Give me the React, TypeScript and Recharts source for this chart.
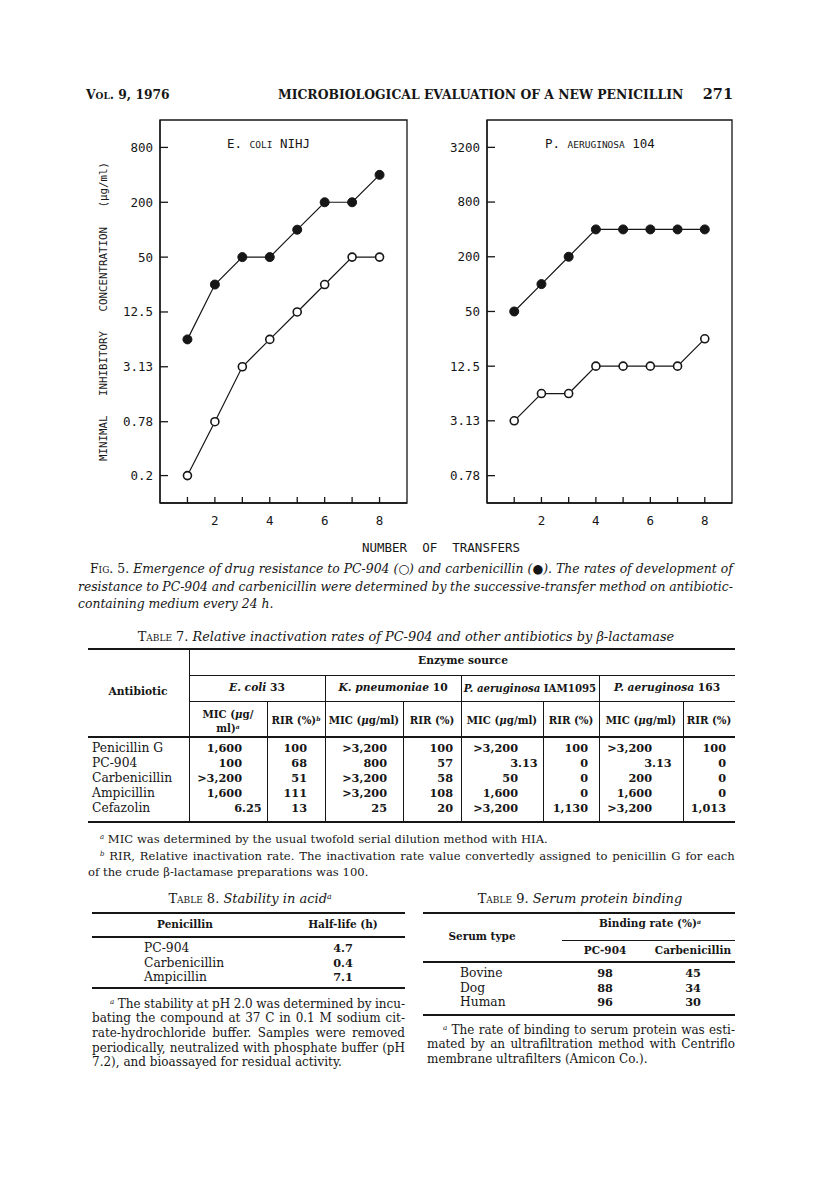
import React from "react";
import { LineChart, Line, XAxis, YAxis, ReferenceArea } from "recharts";

// transfer number on the x axis
const transfers = [1, 2, 3, 4, 5, 6, 7, 8];
const transferTicks = [1, 2, 3, 4, 5, 6, 7, 8];

// MIC (ug/ml)
const ecoliPc904 = [0.2, 0.78, 3.13, 6.25, 12.5, 25, 50, 50];
const ecoliCarbenicillin = [6.25, 25, 50, 50, 100, 200, 200, 400];
const aeruginosaPc904 = [3.13, 6.25, 6.25, 12.5, 12.5, 12.5, 12.5, 25];
const aeruginosaCarbenicillin = [50, 100, 200, 400, 400, 400, 400, 400];

const ecoliTicks = [0.2, 0.78, 3.13, 12.5, 50, 200, 800];
const aeruginosaTicks = [0.78, 3.13, 12.5, 50, 200, 800, 3200];

// table 7
const t7Antibiotics = ["Penicillin G", "PC-904", "Carbenicillin", "Ampicillin", "Cefazolin"];
const t7EcoliMic = ["1,600", "100", ">3,200", "1,600", "6.25"];
const t7EcoliRir = ["100", "68", "51", "111", "13"];
const t7KpnMic = [">3,200", "800", ">3,200", ">3,200", "25"];
const t7KpnRir = ["100", "57", "58", "108", "20"];
const t7Pa1095Mic = [">3,200", "3.13", "50", "1,600", ">3,200"];
const t7Pa1095Rir = ["100", "0", "0", "0", "1,130"];
const t7Pa163Mic = [">3,200", "3.13", "200", "1,600", ">3,200"];
const t7Pa163Rir = ["100", "0", "0", "0", "1,013"];

// table 8
const t8Penicillins = ["PC-904", "Carbenicillin", "Ampicillin"];
const t8HalfLife = ["4.7", "0.4", "7.1"];

// table 9
const t9Serum = ["Bovine", "Dog", "Human"];
const t9Pc904 = ["98", "88", "96"];
const t9Carbenicillin = ["45", "34", "30"];

const INK = "#161616";
const MONO = "'DejaVu Sans Mono', monospace";
const SERIF = "'DejaVu Serif', serif";

function Panel({ pc904, carb, ticks, domain, title, titleX, showYLabel, width, left }: any) {
  const data = transfers.map((t, i) => ({ t, pc904: pc904[i], carb: carb[i] }));
  return (
    <LineChart width={width} height={440} data={data} margin={{ top: 20, right: 13, left, bottom: 7 }}>
      <XAxis
        dataKey="t"
        type="number"
        domain={[0, 9]}
        ticks={transferTicks}
        interval={0}
        tickFormatter={(v: number) => (v % 2 === 0 ? String(v) : "")}
        tickSize={-6}
        tickMargin={19}
        height={30}
        axisLine={{ stroke: INK, strokeWidth: 1.3 }}
        tickLine={{ stroke: INK, strokeWidth: 1.3 }}
        tick={{ fill: INK, fontSize: 12.5, fontFamily: MONO }}
      />
      <YAxis
        type="number"
        scale="log"
        domain={domain}
        allowDataOverflow
        ticks={ticks}
        interval={0}
        width={50}
        tickSize={-8}
        tickMargin={15}
        axisLine={{ stroke: INK, strokeWidth: 1.3 }}
        tickLine={{ stroke: INK, strokeWidth: 1.3 }}
        tick={{ fill: INK, fontSize: 12.5, fontFamily: MONO }}
        label={
          showYLabel
            ? {
                content: (p: any) => {
                  const vb = p.viewBox;
                  const x = vb.x - 7;
                  const y = vb.y + vb.height / 2;
                  return (
                    <text x={x} y={y} transform={`rotate(-90 ${x} ${y})`} textAnchor="middle" dominantBaseline="central"
                      fontFamily={MONO} fontSize={10.8} fill={INK}>
                      MINIMAL{"\u00a0\u00a0\u00a0"}INHIBITORY{"\u00a0\u00a0\u00a0"}CONCENTRATION{"\u00a0\u00a0\u00a0"}(μg/ml)
                    </text>
                  );
                },
              }
            : undefined
        }
      />
      <ReferenceArea
        x1={0}
        x2={9}
        y1={domain[0]}
        y2={domain[1]}
        fill="none"
        stroke={INK}
        strokeWidth={1.3}
        ifOverflow="visible"
        label={{
          content: (p: any) => {
            const vb = p.viewBox;
            return (
              <text x={vb.x + titleX} y={vb.y + 28} fontFamily={MONO} fontSize={12.5} fill={INK}>
                <tspan>{title[0]}</tspan>
                <tspan fontSize={9.5}>{title[1]}</tspan>
                <tspan>{title[2]}</tspan>
              </text>
            );
          },
        }}
      />
      <Line type="linear" dataKey="carb" stroke={INK} strokeWidth={1.2}
        dot={{ r: 4.5, fill: INK, stroke: INK, strokeWidth: 1 }} isAnimationActive={false} />
      <Line type="linear" dataKey="pc904" stroke={INK} strokeWidth={1.2}
        dot={{ r: 4, fill: "#fff", stroke: INK, strokeWidth: 1.6 }} isAnimationActive={false} />
    </LineChart>
  );
}

// text centred vertically on y
function T({ x, y, a = "start", size = 11, bold = false, italic = false, children, style }: any) {
  const h = 16;
  const w = 600;
  const left = a === "start" ? x : a === "middle" ? x - w / 2 : x - w;
  return (
    <div style={{
      position: "absolute", left, top: y - h / 2, width: w, height: h, lineHeight: h + "px", fontSize: size,
      textAlign: a === "start" ? "left" : a === "middle" ? "center" : "right",
      fontWeight: bold ? "bold" : "normal", fontStyle: italic ? "italic" : "normal", whiteSpace: "nowrap", ...style,
    }}>{children}</div>
  );
}

function HL({ x1, x2, y, w = 1 }: any) {
  return <div style={{ position: "absolute", left: x1, top: y - w / 2, width: x2 - x1, height: w, background: INK }} />;
}
function VL({ x, y1, y2, w = 1 }: any) {
  return <div style={{ position: "absolute", left: x - w / 2, top: y1, width: w, height: y2 - y1, background: INK }} />;
}

// justified block, one div per printed line
function Para({ left, top, width, lh, size, indent, lines, italic = false }: any) {
  return (
    <>
      {lines.map((words: any[], i: number) => {
        const last = i === lines.length - 1;
        const ind = i === 0 ? indent : 0;
        return (
          <div key={i} style={{
            position: "absolute", left: left + ind, top: top + i * lh - lh / 2, width: width - ind, height: lh,
            lineHeight: lh + "px", fontSize: size, display: "flex", justifyContent: last ? "flex-start" : "space-between",
            gap: last ? "0.32em" : 0, whiteSpace: "nowrap", fontStyle: italic ? "italic" : "normal",
          }}>
            {words.map((wd, j) => <span key={j}>{wd}</span>)}
          </div>
        );
      })}
    </>
  );
}

const ws = (s: string) => s.split(" ");
const sc = (s: string) => <span style={{ fontVariant: "small-caps", fontStyle: "normal" }}>{s}</span>;
const up = (s: string) => <span style={{ fontStyle: "normal" }}>{s}</span>;
const sup = (s: string) => <sup style={{ fontSize: "0.6em", fontStyle: "italic", verticalAlign: "0.55em", lineHeight: 0 }}>{s}</sup>;

// decimal aligned number: integer part ends at x
function Num({ x, y, v, size = 11.3 }: any) {
  const k = v.indexOf(".");
  const ip = k >= 0 ? v.slice(0, k) : v;
  const fp = k >= 0 ? v.slice(k) : "";
  return (
    <>
      <T x={x} y={y} a="end" size={size} bold>{ip}</T>
      {fp && <T x={x} y={y} size={size} bold>{fp}</T>}
    </>
  );
}

export default function App() {
  const t7L = 88, t7R = 735;
  const rowY = [748, 763, 778, 793, 808];
  const micCols = [
    { xi: 242, vals: t7EcoliMic },
    { xi: 387, vals: t7KpnMic },
    { xi: 518, vals: t7Pa1095Mic },
    { xi: 652, vals: t7Pa163Mic },
  ];
  const rirCols = [
    { xr: 307, vals: t7EcoliRir },
    { xr: 453, vals: t7KpnRir },
    { xr: 588, vals: t7Pa1095Rir },
    { xr: 726, vals: t7Pa163Rir },
  ];
  const hs = 10.2; // table 7 column heads
  return (
    <div style={{ position: "absolute", left: 0, top: 0, width: 816, height: 1194, background: "#fff", color: INK, fontFamily: SERIF }}>
      {/* running head */}
      <T x={86} y={95} size={12.3} bold style={{ fontVariant: "small-caps" }}>Vol. 9, 1976</T>
      <T x={278} y={95} size={12.4} bold>MICROBIOLOGICAL EVALUATION OF A NEW PENICILLIN</T>
      <T x={733} y={94} a="end" size={14.5} bold>271</T>

      {/* figure */}
      <div style={{ position: "absolute", left: 80, top: 100 }}>
        <Panel pc904={ecoliPc904} carb={ecoliCarbenicillin} ticks={ecoliTicks} domain={[0.1, 1600]}
          title={["E. ", "COLI", " NIHJ"]} titleX={67} showYLabel width={340} left={30} />
      </div>
      <div style={{ position: "absolute", left: 427, top: 100 }}>
        <Panel pc904={aeruginosaPc904} carb={aeruginosaCarbenicillin} ticks={aeruginosaTicks} domain={[0.39, 6400]}
          title={["P. ", "AERUGINOSA", " 104"]} titleX={58} width={318} left={10} />
      </div>
      <T x={441} y={548} a="middle" size={12.5} style={{ fontFamily: MONO }}>NUMBER{"\u00a0\u00a0"}OF{"\u00a0\u00a0"}TRANSFERS</T>

      {/* caption */}
      <Para left={78} top={569} width={655} lh={17.5} size={12.4} indent={12} italic lines={[
        [sc("Fig."), up("5."), ...ws("Emergence of drug resistance to PC-904 (○) and carbenicillin (●). The rates of development of")],
        ws("resistance to PC-904 and carbenicillin were determined by the successive-transfer method on antibiotic-"),
        ws("containing medium every 24 h."),
      ]} />

      {/* table 7 */}
      <T x={406} y={637} a="middle" size={12.9} italic>
        {sc("Table")} {up("7.")} Relative inactivation rates of PC-904 and other antibiotics by β-lactamase
      </T>
      <HL x1={t7L} x2={t7R} y={649} w={2} />
      <HL x1={189} x2={t7R} y={675} />
      <HL x1={189} x2={t7R} y={701} />
      <HL x1={t7L} x2={t7R} y={737} w={1.6} />
      <HL x1={t7L} x2={t7R} y={822} w={1.6} />
      <VL x={189} y1={649} y2={822} />
      {[325, 461, 599].map((x) => <VL key={x} x={x} y1={675} y2={822} />)}
      {[267, 403, 543, 683].map((x) => <VL key={x} x={x} y1={701} y2={822} />)}
      <T x={138} y={692} a="middle" size={hs + 0.5} bold>Antibiotic</T>
      <T x={463} y={661} a="middle" size={hs + 0.5} bold>Enzyme source</T>
      <T x={257} y={688} a="middle" size={hs + 0.5} bold><i>E. coli</i> 33</T>
      <T x={393} y={688} a="middle" size={hs + 0.5} bold><i>K. pneumoniae</i> 10</T>
      <T x={530} y={688} a="middle" size={hs} bold><i>P. aeruginosa</i> IAM1095</T>
      <T x={667} y={688} a="middle" size={hs + 0.5} bold><i>P. aeruginosa</i> 163</T>
      <T x={228} y={714} a="middle" size={hs} bold>MIC (<i>μ</i>g/</T>
      <T x={228} y={728} a="middle" size={hs} bold>ml){sup("a")}</T>
      <T x={296} y={720} a="middle" size={hs} bold>RIR (%){sup("b")}</T>
      <T x={364} y={720} a="middle" size={hs} bold>MIC (<i>μ</i>g/ml)</T>
      <T x={432} y={720} a="middle" size={hs} bold>RIR (%)</T>
      <T x={502} y={720} a="middle" size={hs} bold>MIC (<i>μ</i>g/ml)</T>
      <T x={571} y={720} a="middle" size={hs} bold>RIR (%)</T>
      <T x={641} y={720} a="middle" size={hs} bold>MIC (<i>μ</i>g/ml)</T>
      <T x={709} y={720} a="middle" size={hs} bold>RIR (%)</T>
      {t7Antibiotics.map((n, i) => <T key={n} x={92} y={rowY[i]} size={12.3}>{n}</T>)}
      {micCols.map((c, ci) => c.vals.map((v, i) => <Num key={ci + "-" + i} x={c.xi} y={rowY[i]} v={v} />))}
      {rirCols.map((c, ci) => c.vals.map((v, i) => <T key={ci + "r" + i} x={c.xr} y={rowY[i]} a="end" size={11.3} bold>{v}</T>))}

      <Para left={88} top={839} width={647} lh={16.5} size={11.6} indent={12} lines={[
        [sup("a"), ...ws("MIC was determined by the usual twofold serial dilution method with HIA.")],
      ]} />
      <Para left={88} top={856} width={647} lh={16.5} size={11.6} indent={12} lines={[
        [sup("b"), ...ws("RIR, Relative inactivation rate. The inactivation rate value convertedly assigned to penicillin G for each")],
        ws("of the crude β-lactamase preparations was 100."),
      ]} />

      {/* table 8 */}
      <T x={250} y={899} a="middle" size={13} italic>{sc("Table")} {up("8.")} Stability in acid{sup("a")}</T>
      <HL x1={92} x2={405} y={913} w={1.6} />
      <HL x1={92} x2={405} y={937} w={1.6} />
      <HL x1={92} x2={405} y={988} w={1.6} />
      <T x={185} y={924} a="middle" size={10.5} bold>Penicillin</T>
      <T x={343} y={924} a="middle" size={10.5} bold>Half-life (h)</T>
      {t8Penicillins.map((n, i) => <T key={n} x={144} y={948 + i * 14.5} size={12.3}>{n}</T>)}
      {t8HalfLife.map((v, i) => <T key={i} x={343} y={948 + i * 14.5} a="middle" size={11.3} bold>{v}</T>)}
      <Para left={92} top={1004} width={313} lh={14.6} size={12} indent={18} lines={[
        [sup("a"), ...ws("The stability at pH 2.0 was determined by incu-")],
        ws("bating the compound at 37 C in 0.1 M sodium cit-"),
        ws("rate-hydrochloride buffer. Samples were removed"),
        ws("periodically, neutralized with phosphate buffer (pH"),
        ws("7.2), and bioassayed for residual activity."),
      ]} />

      {/* table 9 */}
      <T x={580} y={899} a="middle" size={13} italic>{sc("Table")} {up("9.")} Serum protein binding</T>
      <HL x1={423} x2={735} y={913} w={1.6} />
      <HL x1={562} x2={735} y={940} />
      <HL x1={423} x2={735} y={962} w={1.6} />
      <HL x1={423} x2={735} y={1015} w={1.6} />
      <T x={650} y={923} a="middle" size={10.5} bold>Binding rate (%){sup("a")}</T>
      <T x={482} y={936} a="middle" size={10.5} bold>Serum type</T>
      <T x={605} y={950} a="middle" size={10.5} bold>PC-904</T>
      <T x={693} y={950} a="middle" size={10.5} bold>Carbenicillin</T>
      {t9Serum.map((n, i) => <T key={n} x={460} y={973 + i * 14.5} size={12.3}>{n}</T>)}
      {t9Pc904.map((v, i) => <T key={i} x={605} y={973 + i * 14.5} a="middle" size={11.3} bold>{v}</T>)}
      {t9Carbenicillin.map((v, i) => <T key={i} x={693} y={973 + i * 14.5} a="middle" size={11.3} bold>{v}</T>)}
      <Para left={427} top={1030} width={308} lh={14.6} size={12} indent={16} lines={[
        [sup("a"), ...ws("The rate of binding to serum protein was esti-")],
        ws("mated by an ultrafiltration method with Centriflo"),
        ws("membrane ultrafilters (Amicon Co.)."),
      ]} />
    </div>
  );
}
